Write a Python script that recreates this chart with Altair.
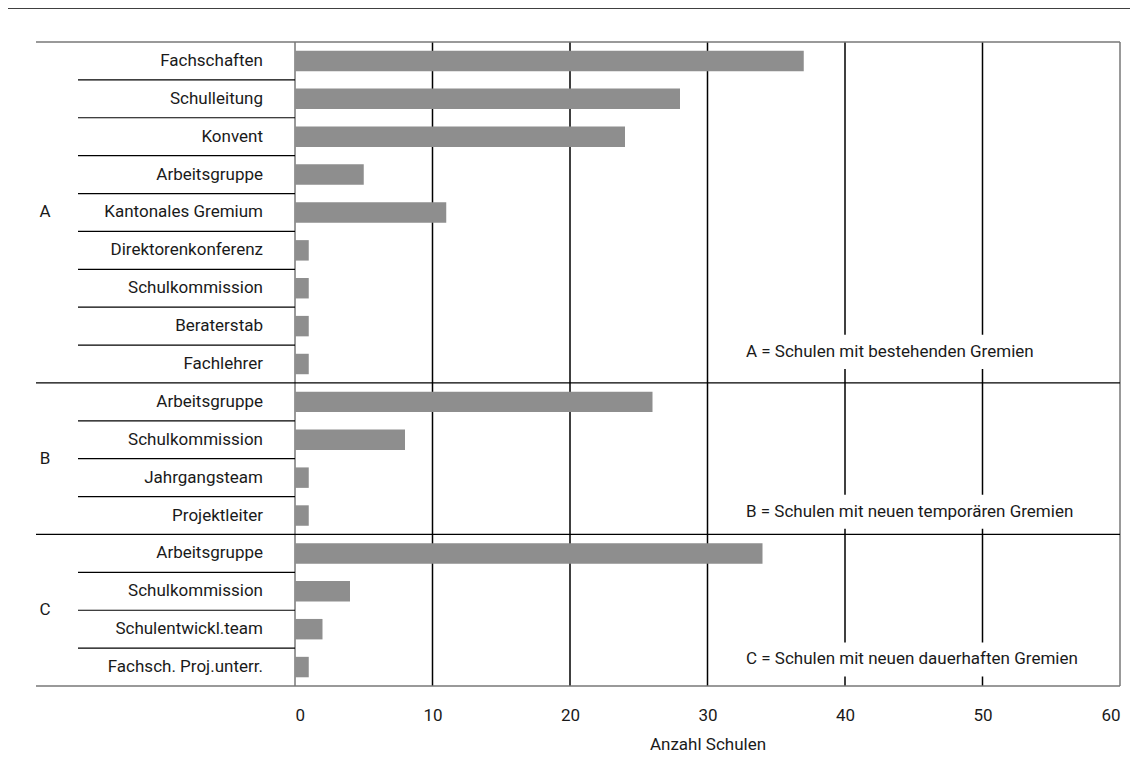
import altair as alt
import pandas as pd

categories = ["Fachschaften", "Schulleitung", "Konvent", "Arbeitsgruppe", "Kantonales Gremium",
              "Direktorenkonferenz", "Schulkommission", "Beraterstab", "Fachlehrer",
              "Arbeitsgruppe", "Schulkommission", "Jahrgangsteam", "Projektleiter",
              "Arbeitsgruppe", "Schulkommission", "Schulentwickl.team", "Fachsch. Proj.unterr."]
groups = ["A"] * 9 + ["B"] * 4 + ["C"] * 4
values = [37, 28, 24, 5, 11, 1, 1, 1, 1, 26, 8, 1, 1, 34, 4, 2, 1]

group_names = ["A", "B", "C"]
group_notes = ["A = Schulen mit bestehenden Gremien",
               "B = Schulen mit neuen temporären Gremien",
               "C = Schulen mit neuen dauerhaften Gremien"]
note_rows = [8.18, 12.4, 16.3]

x_ticks = [0, 10, 20, 30, 40, 50, 60]

FONT = "Roboto"
FS = 17
FW = "normal"
TC = "#1a1a1a"
N = len(categories)

df = pd.DataFrame({"cat": categories, "grp": groups, "val": values, "row": list(range(N))})

# separators
inner = []
outer = []
for i in range(1, N):
    if groups[i] == groups[i - 1]:
        inner.append(i)
    else:
        outer.append(i)
inner_df = pd.DataFrame({"y": inner})
outer_df = pd.DataFrame({"y": outer})
edge_df = pd.DataFrame({"y": [0, N]})

grp_rows = []
for g in group_names:
    rs = [i for i, gg in enumerate(groups) if gg == g]
    grp_rows.append((min(rs) + max(rs) + 1) / 2)
grp_df = pd.DataFrame({"g": group_names, "y": grp_rows})
note_df = pd.DataFrame({"t": group_notes, "y": note_rows})

xs = alt.Scale(domain=[0, 60], nice=False, zero=True)
ys = alt.Scale(domain=[0, N], reverse=True, nice=False, zero=False)

base = alt.Chart(df)

xaxis = alt.Axis(values=x_ticks, grid=False, domain=False, ticks=False, labelFont=FONT,
                 labelFontSize=FS, labelColor=TC, labelFontWeight=FW, labelPadding=21,
                 title="Anzahl Schulen", titleFont=FONT, titleFontSize=FS,
                 titleFontWeight=FW, titleColor=TC, titlePadding=13)

grid_black = alt.Chart(pd.DataFrame({"x": [10, 20, 30, 40, 50]})).mark_rule(
    color="black", strokeWidth=1.5).encode(
    x=alt.X("x:Q", scale=xs, axis=xaxis), y=alt.value(0), y2=alt.value(644))
grid_gray = alt.Chart(pd.DataFrame({"x": [0, 60]})).mark_rule(
    color="#777", strokeWidth=1.5).encode(
    x=alt.X("x:Q", scale=xs), y=alt.value(0), y2=alt.value(644))

white = alt.Chart(note_df).transform_calculate(
    y0="datum.y - 0.45", y1="datum.y + 0.45", x0="32.4", x1="58.3").mark_rect(
    color="white").encode(
    x=alt.X("x0:Q", scale=xs), x2="x1:Q",
    y=alt.Y("y0:Q", scale=ys, axis=None), y2="y1:Q")

notes = alt.Chart(note_df).transform_calculate(x0="32.8").mark_text(
    align="left", baseline="middle", font=FONT, fontSize=FS, color=TC, fontWeight=FW).encode(
    x=alt.X("x0:Q", scale=xs), y=alt.Y("y:Q", scale=ys, axis=None), text="t:N")

bars = base.transform_calculate(
    y0="datum.row + 0.23", y1="datum.row + 0.77").mark_rect(color="#8e8e8e").encode(
    x=alt.X("val:Q", scale=xs), x2=alt.datum(0),
    y=alt.Y("y0:Q", scale=ys, axis=None), y2="y1:Q")

labels = base.transform_calculate(yc="datum.row + 0.5").mark_text(
    align="right", baseline="middle", font=FONT, fontSize=FS, color=TC, fontWeight=FW,
    dx=-32).encode(
    x=alt.value(0), y=alt.Y("yc:Q", scale=ys, axis=None), text="cat:N")

glabels = alt.Chart(grp_df).mark_text(
    align="center", baseline="middle", font=FONT, fontSize=FS, color=TC, fontWeight=FW).encode(
    x=alt.value(-250), y=alt.Y("y:Q", scale=ys, axis=None), text="g:N")

inner_rules = alt.Chart(inner_df).mark_rule(color="black", strokeWidth=1.2).encode(
    x=alt.value(-217), x2=alt.value(0), y=alt.Y("y:Q", scale=ys, axis=None))
outer_rules = alt.Chart(outer_df).mark_rule(color="black", strokeWidth=1.2).encode(
    x=alt.value(-259), x2=alt.value(825), y=alt.Y("y:Q", scale=ys, axis=None))
edge_rules = alt.Chart(edge_df).mark_rule(color="#777", strokeWidth=1.5).encode(
    x=alt.value(-259), x2=alt.value(825), y=alt.Y("y:Q", scale=ys, axis=None))
top_rule = alt.Chart(pd.DataFrame({"a": [0]})).mark_rule(color="black", strokeWidth=1.5).encode(
    x=alt.value(-300), x2=alt.value(845), y=alt.value(-34))

chart = alt.layer(
    grid_black, grid_gray, bars, white, notes, labels, glabels,
    inner_rules, outer_rules, edge_rules, top_rule
).properties(
    width=825, height=644, autosize="none",
    padding={"left": 287, "top": 34, "right": 10, "bottom": 70}
).configure_view(stroke=None)

chart.save("out.html", embed_options={"renderer": "svg", "actions": False})
